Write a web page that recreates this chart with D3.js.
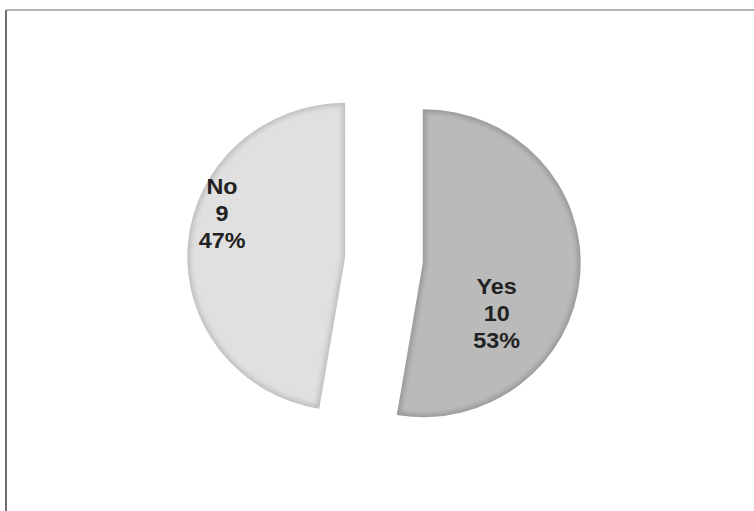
<!DOCTYPE html>
<html>
<head>
<meta charset="utf-8">
<script src="https://cdn.jsdelivr.net/npm/d3@7/dist/d3.min.js"></script>
<style>
  html, body { margin: 0; padding: 0; background: #ffffff; }
  svg { display: block; }
</style>
</head>
<body>
<svg id="chart" width="754" height="511"></svg>
<script>
// ---- data ----
const categories = ["Yes", "No"];
const values = [10, 9];
const percentLabels = ["53%", "47%"];

// ---- layout / style options ----
const pieCenter = { x: 384, y: 260 };
const radius = 154;
const xStretch = 1.025;
const explode = 38;
const fills = { Yes: "#bababa", No: "#e0e0e0" };
const rims = { Yes: "#858585", No: "#ababab" };
// label placement relative to each slice centre: angle (deg, clockwise from top), distance as fraction of radius
const labelPlacement = { Yes: { angle: 124.8, dist: 0.57 }, No: { angle: 290, dist: 0.83 } };
const lineGap = 27;

const svg = d3.select("#chart");
const defs = svg.append("defs");
defs.append("filter").attr("id", "blur").attr("x", "-20%").attr("y", "-20%").attr("width", "140%").attr("height", "140%")
  .append("feGaussianBlur").attr("stdDeviation", 2.5);

// frame (only left and top edges fall inside the picture)
svg.append("line").attr("x1", 6).attr("y1", 10).attr("x2", 754).attr("y2", 10)
  .attr("stroke", "#9a9a9a").attr("stroke-width", 1.5);
svg.append("line").attr("x1", 6).attr("y1", 10).attr("x2", 6).attr("y2", 511)
  .attr("stroke", "#6e6e6e").attr("stroke-width", 2);

const data = categories.map((c, i) => ({ cat: c, value: values[i], pct: percentLabels[i] }));
const pie = d3.pie().sort(null).value(d => d.value).startAngle(0).endAngle(2 * Math.PI);
const arcs = pie(data);
const arc = d3.arc().innerRadius(0).outerRadius(radius);

const g = svg.append("g").attr("transform", `translate(${pieCenter.x},${pieCenter.y}) scale(${xStretch},1)`);

arcs.forEach((a, i) => {
  const mid = (a.startAngle + a.endAngle) / 2;
  const ox = Math.sin(mid) * explode, oy = -Math.cos(mid) * explode;
  const cat = a.data.cat;
  const sg = g.append("g").attr("transform", `translate(${ox},${oy})`);
  const clipId = "clip" + i;
  defs.append("clipPath").attr("id", clipId).append("path").attr("d", arc(a));
  sg.append("path").attr("d", arc(a)).attr("fill", fills[cat]);
  sg.append("path").attr("d", arc(a))
    .attr("fill", "none").attr("stroke", rims[cat]).attr("stroke-width", 5)
    .attr("stroke-linejoin", "round").attr("opacity", 0.75)
    .attr("filter", "url(#blur)").attr("clip-path", `url(#${clipId})`);

  const lp = labelPlacement[cat];
  const la = lp.angle * Math.PI / 180;
  const lx = Math.sin(la) * lp.dist * radius, ly = -Math.cos(la) * lp.dist * radius;
  const lines = [cat, String(a.data.value), a.data.pct];
  const t = sg.append("g").attr("transform", `translate(${lx},${ly}) scale(1.06,1)`)
    .append("text")
    .attr("text-anchor", "middle")
    .attr("font-family", "Liberation Sans, Arial, sans-serif")
    .attr("font-weight", "bold")
    .attr("font-size", 21.5)
    .attr("fill", "#222222");
  lines.forEach((s, k) => {
    t.append("tspan").attr("x", 0).attr("y", (k - 1) * lineGap).attr("dy", "0.36em").text(s);
  });
});
</script>
</body>
</html>
